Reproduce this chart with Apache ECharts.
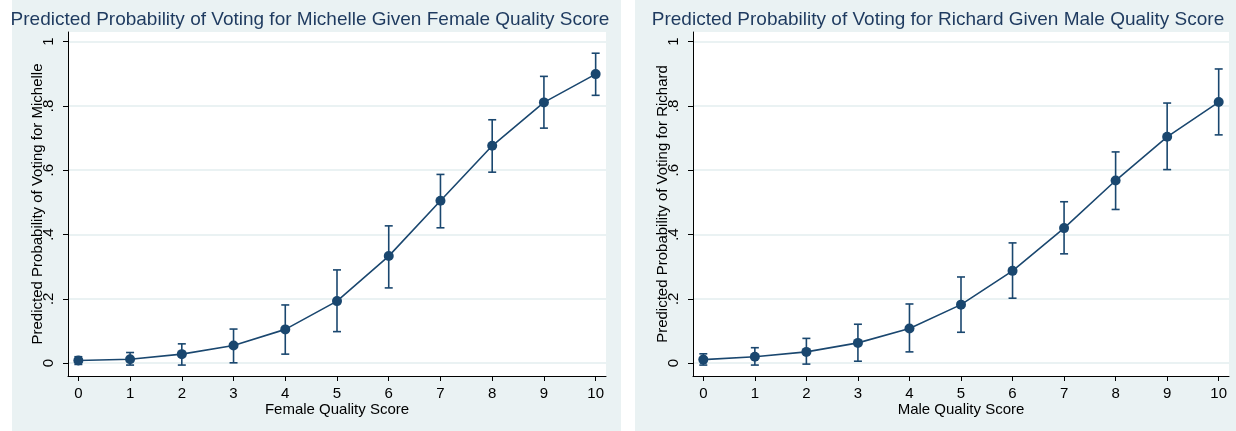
<!DOCTYPE html>
<html>
<head>
<meta charset="utf-8">
<script src="https://cdn.jsdelivr.net/npm/echarts@6/dist/echarts.min.js"></script>
<style>
html,body{margin:0;padding:0;background:#fff;}
#c{width:1236px;height:431px;}
</style>
</head>
<body>
<div id="c"></div>
<script>
// ---- data ----
var scores = [0,1,2,3,4,5,6,7,8,9,10];
var xTicks = [0,1,2,3,4,5,6,7,8,9,10];
var yTicks = [0,0.2,0.4,0.6,0.8,1];
var yTickLabels = ['0','.2','.4','.6','.8','1'];

var michelleProb = [0.008,0.012,0.028,0.055,0.105,0.193,0.333,0.505,0.676,0.811,0.899];
var michelleLo   = [-0.004,-0.006,-0.006,0.001,0.028,0.098,0.234,0.421,0.594,0.731,0.833];
var michelleHi   = [0.020,0.033,0.060,0.106,0.181,0.290,0.427,0.587,0.757,0.892,0.964];

var richardProb = [0.011,0.020,0.035,0.063,0.108,0.182,0.287,0.420,0.568,0.704,0.812];
var richardLo   = [-0.006,-0.006,-0.003,0.006,0.035,0.096,0.202,0.340,0.478,0.602,0.710];
var richardHi   = [0.029,0.048,0.077,0.121,0.184,0.268,0.374,0.502,0.657,0.809,0.915];

var titles = ['Predicted Probability of Voting for Michelle Given Female Quality Score',
              'Predicted Probability of Voting for Richard Given Male Quality Score'];
var xNames = ['Female Quality Score','Male Quality Score'];
var yNames = ['Predicted Probability of Voting for Michelle','Predicted Probability of Voting for Richard'];

// ---- styles ----
var NAVY = '#1a476f';
var BG = '#eaf2f3';
var FONT = 'Liberation Sans, Arial, sans-serif';

var chart = echarts.init(document.getElementById('c'), null, {renderer:'canvas'});

function pairs(xs, ys){ return xs.map(function(x,i){return [x, ys[i]];}); }
function triples(xs, lo, hi){ return xs.map(function(x,i){return [x, lo[i], hi[i]];}); }

function errRender(params, api){
  var x = api.value(0);
  var p1 = api.coord([x, api.value(1)]);
  var p2 = api.coord([x, api.value(2)]);
  var w = 4;
  var st = {stroke: NAVY, lineWidth: 1.6};
  return {type:'group', children:[
    {type:'line', shape:{x1:p1[0],y1:p1[1],x2:p2[0],y2:p2[1]}, style:st},
    {type:'line', shape:{x1:p1[0]-w,y1:p1[1],x2:p1[0]+w,y2:p1[1]}, style:st},
    {type:'line', shape:{x1:p2[0]-w,y1:p2[1],x2:p2[0]+w,y2:p2[1]}, style:st}
  ]};
}

var grids = [
  {left:68, top:32, width:538, height:344, backgroundColor:'#ffffff', show:true, borderWidth:0},
  {left:693, top:32, width:536, height:344, backgroundColor:'#ffffff', show:true, borderWidth:0}
];

function xAxis(i){
  return {type:'value', gridIndex:i, min:-0.2, max:10.2,
    name:xNames[i], nameLocation:'middle', nameGap:26, nameMoveOverlap:false,
    nameTextStyle:{color:'#000', fontSize:15, fontFamily:FONT},
    axisLine:{show:true, onZero:false, lineStyle:{color:'#000', width:1}},
    axisTick:{show:true, customValues:xTicks, length:5, lineStyle:{color:'#000'}},
    axisLabel:{customValues:xTicks, color:'#000', fontSize:15, fontFamily:FONT, margin:10},
    splitLine:{show:false}};
}
function yAxis(i){
  return {type:'value', gridIndex:i, min:-0.04, max:1.03,
    name:yNames[i], nameLocation:'middle', nameGap:23, nameRotate:90, nameMoveOverlap:false,
    nameTextStyle:{color:'#000', fontSize:15, fontFamily:FONT},
    axisLine:{show:true, onZero:false, lineStyle:{color:'#000', width:1}},
    axisTick:{show:true, customValues:yTicks, length:5, lineStyle:{color:'#000'}},
    axisLabel:{customValues:yTicks, rotate:90, color:'#000', fontSize:15, fontFamily:FONT, margin:12,
      formatter:function(v){ var k=yTicks.indexOf(v); return k>=0?yTickLabels[k]:''; }},
    splitLine:{show:false}};
}

function gridSeries(i){
  return {type:'line', xAxisIndex:i, yAxisIndex:i, data:[], z:0, silent:true,
    markLine:{z:0, silent:true, symbol:'none', label:{show:false}, animation:false,
      lineStyle:{color:BG, width:2, type:'solid'},
      data: yTicks.map(function(v){return {yAxis:v};})}};
}

var option = {
  animation:false,
  graphic:[
    {type:'rect', shape:{x:12,y:0,width:609,height:431}, style:{fill:BG}, z:-10},
    {type:'rect', shape:{x:635,y:0,width:601,height:431}, style:{fill:BG}, z:-10}
  ],
  title:[
    {text:titles[0], left:305, top:5, textAlign:'center',
     textStyle:{color:'#1e3a5f', fontSize:19, fontWeight:'normal', fontFamily:FONT}},
    {text:titles[1], left:933, top:5, textAlign:'center',
     textStyle:{color:'#1e3a5f', fontSize:19, fontWeight:'normal', fontFamily:FONT}}
  ],
  grid:grids,
  xAxis:[xAxis(0), xAxis(1)],
  yAxis:[yAxis(0), yAxis(1)],
  series:[
    gridSeries(0),
    gridSeries(1),
    {type:'custom', xAxisIndex:0, yAxisIndex:0, data:triples(scores, michelleLo, michelleHi),
     renderItem:errRender, z:2},
    {type:'line', xAxisIndex:0, yAxisIndex:0, data:pairs(scores, michelleProb),
     symbol:'circle', symbolSize:10, itemStyle:{color:NAVY}, lineStyle:{color:NAVY, width:1.6}, z:3},
    {type:'custom', xAxisIndex:1, yAxisIndex:1, data:triples(scores, richardLo, richardHi),
     renderItem:errRender, z:2},
    {type:'line', xAxisIndex:1, yAxisIndex:1, data:pairs(scores, richardProb),
     symbol:'circle', symbolSize:10, itemStyle:{color:NAVY}, lineStyle:{color:NAVY, width:1.6}, z:3}
  ]
};
chart.setOption(option);
</script>
</body>
</html>
